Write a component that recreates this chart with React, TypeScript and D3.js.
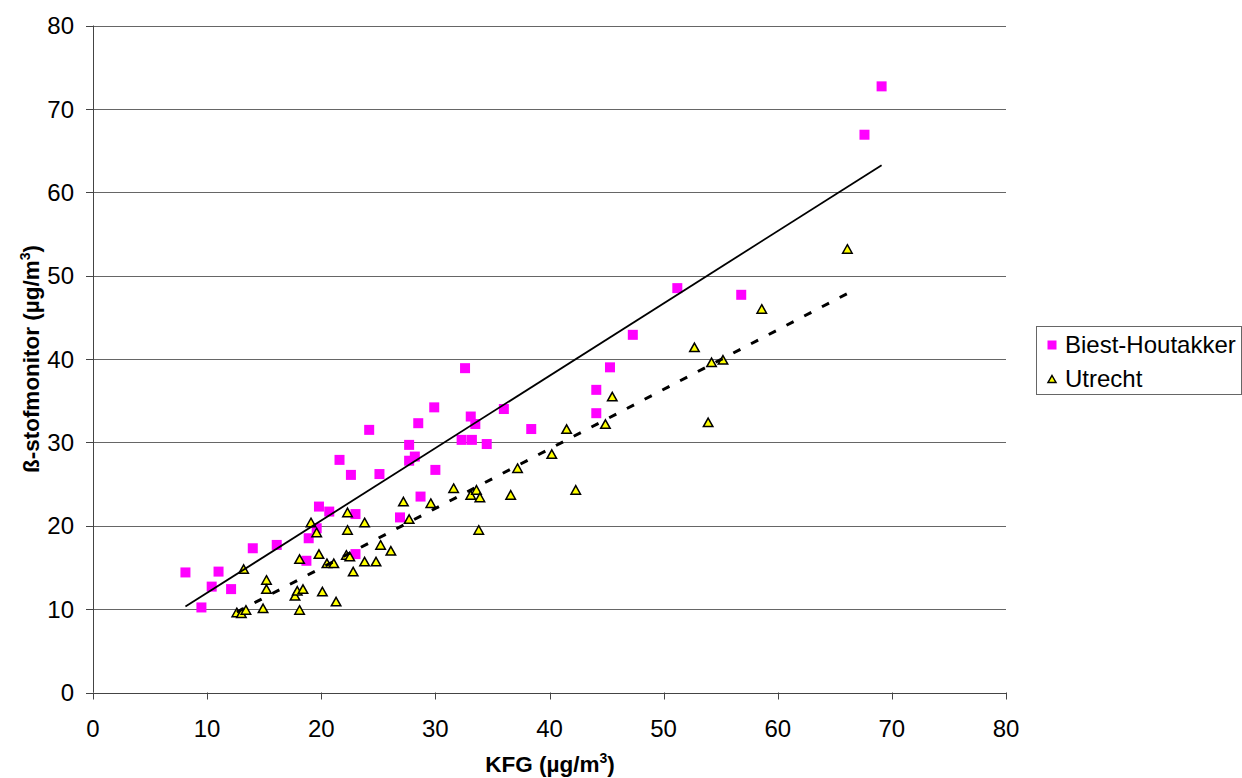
import React from 'react';
import * as d3 from 'd3';

// Biest-Houtakker (magenta squares)
const bhX = [8.1, 9.5, 10.4, 11.0, 12.1, 14.0, 16.1, 18.7, 18.9, 19.6, 19.8, 20.7, 23.0, 23.0, 21.6, 22.6, 24.2, 25.1, 26.9, 27.7, 28.2, 27.7, 28.5, 29.9, 30.0, 28.7, 32.6, 33.1, 33.5, 36.0, 38.4, 32.3, 33.2, 34.5, 44.1, 44.1, 45.3, 47.3, 51.2, 56.8, 67.6, 69.1];
const bhY = [14.4, 10.2, 12.7, 14.5, 12.4, 17.3, 17.7, 15.8, 18.5, 19.7, 22.3, 21.7, 21.4, 16.6, 27.9, 26.1, 31.5, 26.2, 21.0, 29.7, 28.3, 27.8, 32.3, 34.2, 26.7, 23.5, 38.9, 33.1, 32.2, 34.0, 31.6, 30.3, 30.3, 29.8, 36.3, 33.5, 39.0, 42.9, 48.5, 47.7, 66.9, 72.7];

// Utrecht (yellow triangles)
const utX = [12.6, 13.0, 13.4, 13.2, 14.9, 15.2, 15.2, 17.7, 17.9, 18.4, 18.1, 18.1, 19.1, 19.6, 19.8, 20.1, 20.5, 21.1, 21.3, 22.3, 22.3, 22.2, 22.5, 22.8, 23.8, 23.8, 24.8, 25.2, 26.1, 27.2, 27.7, 29.6, 31.6, 33.1, 33.6, 33.9, 33.8, 36.6, 37.2, 40.2, 41.5, 42.3, 44.9, 45.5, 52.7, 53.9, 54.2, 55.2, 58.6, 66.1];
const utY = [9.6, 9.5, 9.9, 14.8, 10.1, 13.5, 12.4, 11.6, 12.2, 12.4, 16.0, 9.9, 20.4, 19.2, 16.6, 12.1, 15.5, 15.5, 10.9, 21.6, 19.5, 16.5, 16.3, 14.5, 20.4, 15.7, 15.7, 17.7, 17.0, 22.9, 20.8, 22.7, 24.5, 23.7, 24.3, 23.4, 19.5, 23.7, 26.9, 28.6, 31.6, 24.3, 32.2, 35.5, 41.4, 32.4, 39.6, 39.9, 46.0, 53.2];

const xTicks = [0, 10, 20, 30, 40, 50, 60, 70, 80];
const yTicks = [0, 10, 20, 30, 40, 50, 60, 70, 80];
const seriesNames = ['Biest-Houtakker', 'Utrecht'];

function fit(xs: number[], ys: number[]) {
  const n = xs.length;
  const mx = d3.mean(xs) as number;
  const my = d3.mean(ys) as number;
  let sxy = 0, sxx = 0;
  for (let i = 0; i < n; i++) {
    sxy += (xs[i] - mx) * (ys[i] - my);
    sxx += (xs[i] - mx) * (xs[i] - mx);
  }
  const b = sxy / sxx;
  const a = my - b * mx;
  const x0 = d3.min(xs) as number;
  const x1 = d3.max(xs) as number;
  return [[x0, a + b * x0], [x1, a + b * x1]] as [number, number][];
}

const FONT = '"Liberation Sans", Arial, sans-serif';

function tri(cx: number, cy: number, w = 9.5, h = 8.5) {
  return `M${cx},${cy - h / 2}L${cx + w / 2},${cy + h / 2}L${cx - w / 2},${cy + h / 2}Z`;
}

export default function App() {
  const W = 1242, H = 778;
  const x = d3.scaleLinear().domain([0, 80]).range([93, 1006]);
  const y = d3.scaleLinear().domain([0, 80]).range([692.5, 25.5]);
  const line = d3.line<[number, number]>().x(d => x(d[0])).y(d => y(d[1]));
  const bhFit = fit(bhX, bhY);
  const utFit = fit(utX, utY);
  const sq = 10;

  return (
    <svg width={W} height={H} style={{ position: 'absolute', left: 0, top: 0, background: '#fff' }} fontFamily={FONT}>
      <rect x={0} y={0} width={W} height={H} fill="#fff" />
      {/* gridlines */}
      {yTicks.filter(t => t > 0).map(t => (
        <line key={'g' + t} x1={x(0)} x2={x(80)} y1={Math.round(y(t)) + 0.5} y2={Math.round(y(t)) + 0.5} stroke="#666" strokeWidth={1} />
      ))}
      {/* axes */}
      <line x1={x(0) + 0.5} x2={x(0) + 0.5} y1={y(80)} y2={y(0)} stroke="#444" strokeWidth={1} />
      <line x1={x(0)} x2={x(80)} y1={Math.round(y(0)) + 0.5} y2={Math.round(y(0)) + 0.5} stroke="#444" strokeWidth={1} />
      {yTicks.map(t => (
        <g key={'yt' + t}>
          <line x1={x(0) - 7} x2={x(0)} y1={Math.round(y(t)) + 0.5} y2={Math.round(y(t)) + 0.5} stroke="#444" strokeWidth={1} />
          <text x={74} y={y(t)} dy="0.36em" textAnchor="end" fontSize={24} fill="#000">{t}</text>
        </g>
      ))}
      {xTicks.map(t => (
        <g key={'xt' + t}>
          <line x1={Math.round(x(t)) + 0.5} x2={Math.round(x(t)) + 0.5} y1={y(0)} y2={y(0) + 7} stroke="#444" strokeWidth={1} />
          <text x={x(t)} y={737} textAnchor="middle" fontSize={24} fill="#000">{t}</text>
        </g>
      ))}
      {/* markers */}
      {bhX.map((v, i) => (
        <rect key={'b' + i} x={x(v) - sq / 2} y={y(bhY[i]) - sq / 2} width={sq} height={sq} fill="#FF00FF" />
      ))}
      {utX.map((v, i) => (
        <path key={'u' + i} d={tri(x(v), y(utY[i]))} fill="#FFFF00" stroke="#000" strokeWidth={1.5} strokeLinejoin="miter" />
      ))}
      {/* trendlines */}
      <path d={line(bhFit) || ''} fill="none" stroke="#000" strokeWidth={1.8} />
      <path d={line(utFit) || ''} fill="none" stroke="#000" strokeWidth={3} strokeDasharray="8,12" />
      {/* axis titles */}
      <text x={550} y={772} textAnchor="middle" fontSize={22.5} fontWeight="bold" fill="#000">
        KFG (µg/m<tspan dy={-9} fontSize={14}>3</tspan><tspan dy={9}>)</tspan>
      </text>
      <text transform={`translate(39,${(y(0) + y(80)) / 2}) rotate(-90)`} textAnchor="middle" fontSize={22.5} fontWeight="bold" fill="#000">
        ß-stofmonitor (µg/m<tspan dy={-9} fontSize={14}>3</tspan><tspan dy={9}>)</tspan>
      </text>
      {/* legend */}
      <rect x={1036.5} y={326.5} width={205} height={68} fill="#fff" stroke="#666" strokeWidth={1} />
      <rect x={1052 - 4.5} y={345 - 4.5} width={9} height={9} fill="#FF00FF" />
      <text x={1065} y={353} fontSize={24} fill="#000">{seriesNames[0]}</text>
      <path d={tri(1052, 379, 8, 7)} fill="#FFFF00" stroke="#000" strokeWidth={1.5} />
      <text x={1065} y={387} fontSize={24} fill="#000">{seriesNames[1]}</text>
    </svg>
  );
}
